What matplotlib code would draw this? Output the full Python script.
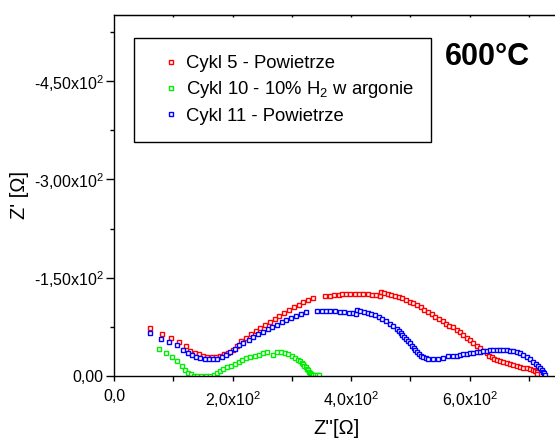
import numpy as np
import matplotlib
matplotlib.use('Agg')
import matplotlib.pyplot as plt

plt.rcParams['font.family'] = ['Liberation Sans', 'DejaVu Sans']
plt.rcParams['mathtext.fontset'] = 'custom'
plt.rcParams['mathtext.rm'] = 'Liberation Sans'
plt.rcParams['mathtext.it'] = 'Liberation Sans:italic'
plt.rcParams['mathtext.bf'] = 'Liberation Sans:bold'
plt.rcParams['mathtext.default'] = 'regular'

# Cykl 5 - Powietrze  (Z' [Ohm], Z'' [Ohm])
x_c5 = [60.2, 81.6, 95.6, 109.7, 121.0, 128.9, 136.2, 143.5, 150.2, 157.5,
        164.9, 172.2, 179.4, 186.2, 193.0, 200.3, 208.1, 214.9, 222.8, 230.7,
        239.1, 246.9, 254.8, 262.7, 271.2, 279.0, 287.4, 295.4, 303.3, 311.7,
        319.5, 327.9, 335.9, 355.6, 364.0, 371.8, 379.8, 384.3, 391.6, 398.9,
        406.2, 413.5, 420.8, 428.2, 435.5, 442.7, 448.4, 450.1, 455.7, 461.9,
        468.0, 474.3, 480.5, 486.6, 492.8, 499.1, 505.2, 511.4, 517.7, 523.7,
        530.0, 536.2, 542.3, 548.5, 554.8, 560.9, 566.0, 572.7, 578.4, 584.0,
        589.6, 595.3, 600.9, 606.4, 612.2, 617.7, 623.3, 629.0, 633.4, 637.5,
        641.4, 645.9, 651.5, 657.1, 662.8, 668.4, 674.0, 679.6, 685.3, 690.9,
        696.5, 702.1, 706.7, 710.6, 713.4, 714.5]
y_c5 = [-73.3, -64.2, -58.5, -52.4, -45.8, -38.7, -35.6, -33.1, -31.0, -29.5,
        -29.5, -29.5, -30.5, -33.1, -35.6, -39.7, -45.8, -53.5, -58.5, -63.7,
        -68.3, -72.8, -77.4, -82.5, -87.5, -92.1, -96.7, -101.3, -105.4, -108.9,
        -112.6, -115.6, -119.1, -122.2, -122.7, -123.3, -124.2, -125.2, -125.7, -125.7,
        -125.7, -125.7, -125.2, -124.8, -124.2, -123.3, -122.2, -127.8, -126.3, -125.2,
        -123.7, -122.2, -120.7, -118.7, -116.1, -113.5, -111.0, -108.0, -104.9, -101.3,
        -97.8, -94.2, -90.6, -87.1, -83.5, -79.9, -76.8, -74.4, -70.7, -66.7,
        -62.6, -58.5, -54.5, -49.9, -46.3, -42.3, -38.7, -34.7, -31.0, -28.6,
        -26.0, -24.4, -22.9, -21.4, -19.9, -18.3, -16.8, -15.3, -13.7, -12.2,
        -11.7, -10.2, -9.2, -8.1, -6.1, -3.0]

# Cykl 10 - 10% H2 w argonie
x_c10 = [76.5, 87.8, 97.9, 106.9, 114.3, 119.3, 124.4, 129.4, 135.0, 140.6,
         147.3, 154.7, 162.0, 168.8, 173.8, 178.9, 184.5, 190.7, 196.9, 203.7,
         210.5, 215.5, 222.8, 230.1, 237.5, 244.7, 252.0, 257.7, 268.9, 274.6,
         281.3, 288.1, 294.2, 299.9, 305.5, 311.1, 313.9, 316.8, 319.0, 321.2,
         323.5, 325.2, 326.9, 328.6, 330.3, 332.0, 334.2, 336.4, 339.2, 342.1,
         345.5]
y_c10 = [-41.2, -35.6, -29.5, -22.9, -15.7, -9.2, -5.0, -2.6, -0.5, 0.0,
         0.0, 0.0, 0.0, -1.5, -4.6, -7.6, -10.7, -13.2, -15.7, -18.3,
         -20.9, -24.4, -27.0, -29.0, -31.0, -32.6, -34.7, -36.2, -32.6, -36.7,
         -36.7, -35.6, -33.6, -31.0, -28.0, -24.4, -22.1, -19.9, -17.6, -15.3,
         -13.3, -11.2, -8.9, -6.6, -4.9, -3.1, -2.0, -1.0, -1.0, -1.0,
         -1.5]

# Cykl 11 - Powietrze
x_c11 = [60.2, 79.9, 93.4, 106.3, 117.0, 125.4, 131.6, 138.4, 145.7, 153.1,
         159.8, 167.1, 174.4, 181.8, 188.5, 195.8, 204.2, 211.5, 218.3, 227.3,
         235.1, 243.0, 250.9, 259.4, 267.2, 275.1, 283.0, 290.8, 298.7, 307.2,
         315.1, 323.5, 343.1, 350.5, 357.8, 365.1, 372.4, 381.4, 388.7, 396.1,
         403.4, 408.5, 409.6, 415.7, 422.0, 428.2, 434.3, 440.5, 446.8, 452.8,
         459.1, 465.3, 471.4, 477.7, 480.8, 483.9, 486.9, 490.0, 493.4, 496.2,
         499.6, 502.5, 505.8, 508.5, 511.9, 514.8, 518.1, 522.1, 526.0, 530.5,
         538.9, 547.4, 555.8, 564.3, 572.7, 578.4, 584.0, 589.6, 595.3, 600.9,
         606.4, 612.2, 617.7, 623.3, 629.0, 634.6, 640.2, 645.9, 651.5, 657.1,
         662.8, 668.4, 674.0, 679.6, 685.3, 690.9, 696.5, 702.1, 707.7, 712.3,
         716.2, 719.0, 721.9, 724.1, 725.8, 727.4]
y_c11 = [-66.2, -57.0, -52.4, -46.9, -40.2, -34.7, -31.6, -29.5, -27.5, -26.0,
         -26.0, -26.0, -26.4, -29.0, -32.1, -36.2, -41.2, -46.9, -50.9, -55.4,
         -60.0, -64.2, -67.7, -71.8, -75.3, -78.4, -82.0, -85.5, -89.0, -92.1,
         -94.7, -97.8, -99.8, -98.8, -98.8, -98.8, -98.8, -98.2, -97.8, -96.7,
         -95.7, -94.2, -100.8, -99.3, -98.2, -96.7, -94.7, -92.6, -90.1, -87.1,
         -83.5, -79.9, -75.9, -71.3, -68.7, -66.2, -63.1, -60.0, -56.8, -53.5,
         -49.9, -46.3, -42.8, -39.7, -36.7, -33.6, -31.0, -28.6, -27.0, -26.0,
         -25.5, -26.4, -28.0, -30.1, -30.1, -31.0, -32.1, -33.1, -34.1, -34.9,
         -35.6, -36.4, -37.1, -37.9, -38.7, -39.0, -39.2, -39.7, -39.7, -39.7,
         -39.2, -38.7, -37.7, -36.4, -34.7, -32.4, -29.5, -26.0, -21.9, -18.8,
         -15.3, -12.2, -9.2, -6.6, -4.1, -1.0]

x_ticks = [0, 200, 400, 600]
x_ticklabels = ['0,0', r'2,0x10$^2$', r'4,0x10$^2$', r'6,0x10$^2$']
y_ticks = [0, -150, -300, -450]
y_ticklabels = ['0,00', r'-1,50x10$^2$', r'-3,00x10$^2$', r'-4,50x10$^2$']

fig = plt.figure(figsize=(5.55, 4.38), dpi=100)
ax = fig.add_axes([0.2054, 0.1416, 0.8007, 0.8242])

series = [
    (x_c5, y_c5, '#ff0000', 'Cykl 5 - Powietrze'),
    (x_c10, y_c10, '#00ee00', r'Cykl 10 - 10% H$_2$ w argonie'),
    (x_c11, y_c11, '#0000ff', 'Cykl 11 - Powietrze'),
]
for xs, ys, c, lab in series:
    ax.plot(xs, ys, ls='none', marker='s', ms=3.0, mew=1.0,
            mec=c, mfc='white', antialiased=False, label=lab)

ax.set_xlim(0, 750)
ax.set_ylim(0, -551)
ax.set_xticks(x_ticks)
ax.set_xticklabels(x_ticklabels)
ax.set_xticks([100, 300, 500, 700], minor=True)
ax.set_yticks(y_ticks)
ax.set_yticklabels(y_ticklabels)
ax.set_yticks([-75, -225, -375, -525], minor=True)

for s in ax.spines.values():
    s.set_linewidth(1.0)
ax.spines['right'].set_visible(False)
ax.tick_params(axis='x', which='both', direction='out', length=3.5, width=1.0,
               labelsize=11.5, pad=6)
ax.tick_params(axis='y', which='major', direction='out', length=5.5, width=1.0,
               labelsize=11.5, pad=2)
ax.tick_params(axis='y', which='minor', direction='out', length=3, width=1.0)

top = ax.secondary_xaxis('top')
top.set_xticks([100, 200, 300, 400, 500, 600, 700])
top.tick_params(direction='in', length=1.5, width=1.0, labeltop=False)

ax.set_xlabel("Z''[Ω]", fontsize=14.5)
ax.xaxis.set_label_coords(0.5, -0.118)
ax.set_ylabel("Z' [Ω]", fontsize=14.5)
ax.yaxis.set_label_coords(-0.191, 0.5)

leg = ax.legend(loc='upper left', bbox_to_anchor=(0.045, 0.936), borderaxespad=0,
                fontsize=13.3, frameon=True, fancybox=False, edgecolor='black',
                framealpha=1, borderpad=0.93, labelspacing=0.39, handlelength=2.2,
                handletextpad=-0.3, markerscale=0.75)
leg.get_frame().set_linewidth(1.0)

fig.text(0.8775, 0.8516, '600°C', fontsize=22, fontweight='bold',
         ha='center', va='baseline')

fig.savefig('out.png', dpi=100)
